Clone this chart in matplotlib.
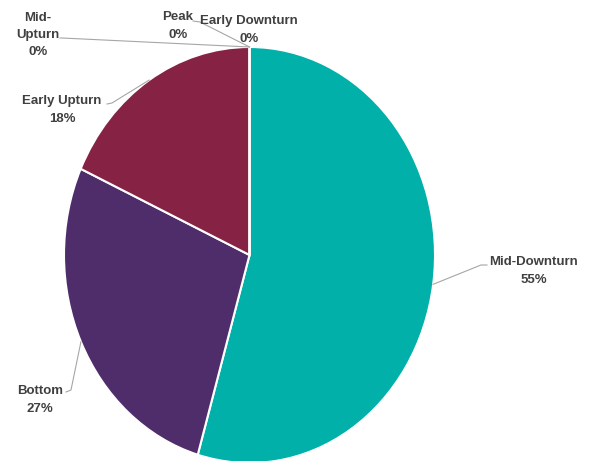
import matplotlib
matplotlib.use("Agg")
import matplotlib.pyplot as plt
from matplotlib.lines import Line2D
import numpy as np

PHASES = ["Early Downturn", "Mid-Downturn", "Bottom", "Early Upturn", "Mid-Upturn", "Peak"]
SHARES = [0, 54.5, 27.3, 18.2, 0, 0]
LABELS = ["Early Downturn", "Mid-Downturn", "Bottom", "Early Upturn", "Mid-\nUpturn", "Peak"]
COLORS = ["#2E75B6", "#00B0A9", "#4F2D6B", "#862345", "#ED7D31", "#A5A5A5"]

TXT = "#404040"
LEAD = "#A6A6A6"
W, H = 596, 461

fig = plt.figure(figsize=(W / 100, H / 100), dpi=100)
fig.patch.set_facecolor("white")
# pie is drawn slightly stretched vertically and runs off the bottom edge
ax = fig.add_axes([64 / W, -2 / H, 371 / W, 416 / H])
wedges, _ = ax.pie(SHARES, colors=COLORS, startangle=90, counterclock=False,
                   radius=1, wedgeprops=dict(edgecolor="white", linewidth=1.5))
ax.set_aspect("auto")
ax.set_xlim(-1, 1)
ax.set_ylim(-1, 1)
ax.axis("off")

# label placement in figure pixels (from top-left): text centre, leader start, stub end
LAYOUT = {
    "Early Downturn": ((249, 30), None, None),
    "Mid-Downturn": ((534, 271), (487, 265), (481, 265)),
    "Bottom": ((40, 400), (66, 392), (71, 390)),
    "Early Upturn": ((62, 110), (107, 104), (112, 103)),
    "Mid-Upturn": ((38, 35), (60, 38), (62, 38)),
    "Peak": ((178, 26), (193, 21), (200, 22)),
}

def to_fig(px, py):
    return px / W, 1 - py / H

inv = fig.transFigure.inverted()
fig.canvas.draw()
for name, lab, val, w in zip(PHASES, LABELS, SHARES, wedges):
    (tx, ty), start, stub = LAYOUT[name]
    fig.text(*to_fig(tx, ty), f"{lab}\n{int(val + 0.5)}%", ha="center", va="center",
             fontsize=9.5, fontweight="bold", color=TXT, linespacing=1.6,
             family="Liberation Sans")
    if start is None:
        continue
    mid = np.deg2rad((w.theta1 + w.theta2) / 2)
    edge = inv.transform(ax.transData.transform((np.cos(mid), np.sin(mid))))
    xs = [to_fig(*start)[0], to_fig(*stub)[0], edge[0]]
    ys = [to_fig(*start)[1], to_fig(*stub)[1], edge[1]]
    fig.add_artist(Line2D(xs, ys, transform=fig.transFigure, color=LEAD, linewidth=0.8))

fig.savefig("out.png", dpi=100, facecolor="white")
